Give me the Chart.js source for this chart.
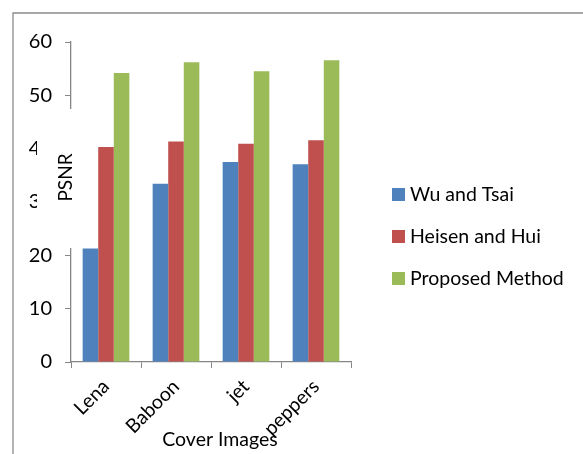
<!DOCTYPE html>
<html>
<head>
<meta charset="utf-8">
<script src="https://cdn.jsdelivr.net/npm/chart.js@4.4.1/dist/chart.umd.min.js"></script>
<style>
  html, body { margin: 0; padding: 0; background: #fff; }
  #wrap { width: 583px; height: 454px; position: relative; }
</style>
</head>
<body>
<div id="wrap"><canvas id="c" width="583" height="454"></canvas></div>
<script>
// Cover images and PSNR (dB) for each embedding scheme
const coverImages = ['Lena', 'Baboon', 'jet', 'peppers'];
const wuAndTsai = [21.3, 33.4, 37.5, 37.1];
const heisenAndHui = [40.3, 41.35, 40.9, 41.6];
const proposedMethod = [54.2, 56.2, 54.5, 56.6];
const yTicks = [0, 10, 20, 30, 40, 50, 60];

const seriesNames = ['Wu and Tsai', 'Heisen and Hui', 'Proposed Method'];
const seriesColors = ['#4F81BD', '#C0504D', '#9BBB59'];
const FONT = 'Lato';
const AXIS_GREY = '#868686';

// Outer frame, axis titles and the side legend
const decorations = {
  id: 'decorations',
  afterDraw(chart) {
    const ctx = chart.ctx;
    ctx.save();

    // frame lines along the top and left edges
    ctx.strokeStyle = '#8c8c8c';
    ctx.lineWidth = 1.3;
    ctx.beginPath();
    ctx.moveTo(13, 454);
    ctx.lineTo(13, 13);
    ctx.lineTo(583, 13);
    ctx.stroke();

    // vertical axis title on a white backing box
    ctx.fillStyle = '#ffffff';
    ctx.fillRect(37, 109, 40, 139);
    ctx.translate(66, 177.5);
    ctx.rotate(-Math.PI / 2);
    ctx.fillStyle = '#000';
    ctx.font = '19px ' + FONT;
    ctx.textAlign = 'center';
    ctx.textBaseline = 'middle';
    ctx.fillText('PSNR', 0, 0);
    ctx.setTransform(1, 0, 0, 1, 0, 0);

    // horizontal axis title
    ctx.font = '19.5px ' + FONT;
    ctx.fillText('Cover Images', 220, 440);

    // legend
    ctx.textAlign = 'left';
    const tops = [188, 230, 272];
    chart.data.datasets.forEach((ds, i) => {
      ctx.fillStyle = ds.backgroundColor;
      ctx.fillRect(392, tops[i], 13, 13);
      ctx.fillStyle = '#000';
      ctx.fillText(ds.label, 410, tops[i] + 7);
    });
    ctx.restore();
  }
};

new Chart(document.getElementById('c'), {
  type: 'bar',
  data: {
    labels: coverImages,
    datasets: [
      { label: seriesNames[0], data: wuAndTsai, backgroundColor: seriesColors[0] },
      { label: seriesNames[1], data: heisenAndHui, backgroundColor: seriesColors[1] },
      { label: seriesNames[2], data: proposedMethod, backgroundColor: seriesColors[2] }
    ]
  },
  options: {
    responsive: false,
    animation: false,
    devicePixelRatio: 1,
    layout: { padding: { left: 13, top: 42, right: 232, bottom: 0 } },
    datasets: { bar: { barPercentage: 1, categoryPercentage: 0.667, borderWidth: 0 } },
    plugins: { legend: { display: false }, tooltip: { enabled: false } },
    scales: {
      x: {
        offset: true,
        grid: { offset: true, drawOnChartArea: false, drawTicks: true, tickLength: 6, color: AXIS_GREY },
        border: { display: true, color: AXIS_GREY, width: 1.3 },
        ticks: { color: '#000', font: { family: FONT, size: 19.5 }, minRotation: 45, maxRotation: 45, padding: 7 },
        afterFit(scale) { scale.height = 92; }
      },
      y: {
        min: 0, max: 60,
        afterBuildTicks(scale) { scale.ticks = yTicks.map(v => ({ value: v })); },
        grid: { drawOnChartArea: false, drawTicks: true, tickLength: 6, color: AXIS_GREY },
        border: { display: true, color: AXIS_GREY, width: 1.3 },
        ticks: { color: '#000', font: { family: FONT, size: 20 }, padding: 13 },
        afterFit(scale) { scale.width = 58; }
      }
    }
  },
  plugins: [decorations]
});
</script>
</body>
</html>
